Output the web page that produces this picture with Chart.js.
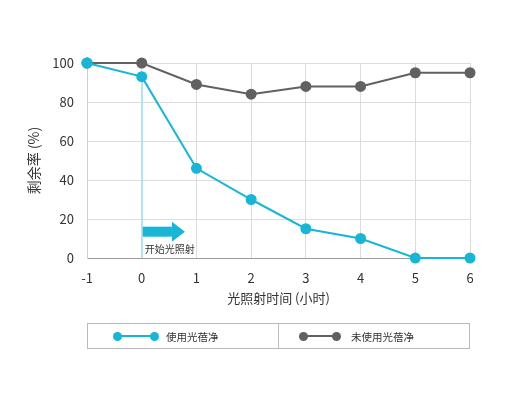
<!DOCTYPE html>
<html>
<head>
<meta charset="utf-8">
<script src="https://cdn.jsdelivr.net/npm/chart.js@4/dist/chart.umd.min.js"></script>
<style>
  body { margin:0; background:#fff; font-family:"Noto Sans CJK SC", "Noto Sans", sans-serif; }
  #wrap { position:relative; width:510px; height:397px; }
  #legend { position:absolute; left:87px; top:323px; width:381px; height:24px; border:1px solid #bbb; display:flex; }
  .item { flex:1; display:flex; align-items:center; font-size:10.5px; color:#333; }
  .item + .item { border-left:1px solid #bbb; }
  .mark { position:relative; width:46px; height:9px; margin:0 7px 0 25px; }
  .item + .item .mark { width:42px; margin:0 10px 0 20px; }
  .mark i { position:absolute; left:4px; right:4px; top:3.5px; height:2px; }
  .mark b { position:absolute; top:0; width:9px; height:9px; border-radius:50%; }
</style>
</head>
<body>
<div id="wrap">
  <canvas id="chart" width="510" height="397"></canvas>
  <div id="legend"></div>
</div>
<script>
// ── data ───────────────────────────────────────────
const hours      = [-1, 0, 1, 2, 3, 4, 5, 6];
const withUse    = [100, 93, 46, 30, 15, 10, 0, 0];
const withoutUse = [100, 100, 89, 84, 88, 88, 95, 95];
const yTicks     = [0, 20, 40, 60, 80, 100];
const names      = ['使用光蓓净', '未使用光蓓净'];
const colors     = ['#17b6d6', '#616161'];
const startX     = 0;      // light turned on
const arrowEnd   = 0.79;   // arrow tip (hours)
const arrowY     = 13.5;   // arrow centre (%)
const startLabel = '开始光照射';

const FONT = '"Noto Sans CJK SC", "Noto Sans", sans-serif';

// vertical marker + arrow annotation
const annot = {
  id: 'annot',
  beforeDatasetsDraw(chart) {
    const { ctx, scales: { x, y } } = chart;
    const x0 = x.getPixelForValue(startX);
    ctx.save();
    ctx.strokeStyle = '#9ad8ea';
    ctx.lineWidth = 1;
    ctx.beginPath();
    ctx.moveTo(x0 + 0.5, y.getPixelForValue(withUse[hours.indexOf(startX)]));
    ctx.lineTo(x0 + 0.5, y.getPixelForValue(0));
    ctx.stroke();

    const xe = x.getPixelForValue(arrowEnd);
    const yc = y.getPixelForValue(arrowY);
    const headLen = 13;
    ctx.fillStyle = colors[0];
    ctx.fillRect(x0 + 1, yc - 5, xe - headLen - x0 - 1, 10);
    ctx.beginPath();
    ctx.moveTo(xe - headLen, yc - 10);
    ctx.lineTo(xe, yc);
    ctx.lineTo(xe - headLen, yc + 10);
    ctx.closePath();
    ctx.fill();

    ctx.fillStyle = '#333';
    ctx.font = '10px ' + FONT;
    ctx.textBaseline = 'middle';
    ctx.fillText(startLabel, x0 + 3, yc + 18);
    ctx.restore();
  }
};

new Chart(document.getElementById('chart'), {
  type: 'line',
  data: {
    labels: hours,
    datasets: [withUse, withoutUse].map((d, i) => ({
      label: names[i],
      data: hours.map((h, k) => ({ x: h, y: d[k] })),
      borderColor: colors[i],
      backgroundColor: colors[i],
      borderWidth: 2,
      pointRadius: 4.5,
      pointHoverRadius: 4.5,
      tension: 0,
      clip: false,
    })),
  },
  options: {
    responsive: false,
    animation: false,
    layout: { padding: { left: 25, right: 40, top: 63, bottom: 87 } },
    plugins: { legend: { display: false }, tooltip: { enabled: false } },
    scales: {
      x: {
        type: 'linear', min: -1, max: 6,
        afterFit: s => { s.height = 52; },
        afterBuildTicks: s => { s.ticks = hours.map(v => ({ value: v })); },
        grid: { color: '#dcdcdc', drawTicks: false },
        border: { color: '#9a9a9a' },
        ticks: { color: '#333', font: { family: FONT, size: 13 }, padding: 12 },
        title: { display: true, text: '光照射时间 (小时)', color: '#333', font: { family: FONT, size: 13 }, padding: { top: 0, bottom: 4 } },
      },
      y: {
        min: 0, max: 100,
        afterFit: s => { s.width = 62; },
        afterBuildTicks: s => { s.ticks = yTicks.map(v => ({ value: v })); },
        grid: { color: '#dcdcdc', drawTicks: false },
        border: { color: '#cfcfcf' },
        ticks: { color: '#333', font: { family: FONT, size: 13 }, padding: 13 },
        title: { display: true, text: '剩余率 (%)', color: '#333', font: { family: FONT, size: 14 }, padding: 0 },
      },
    },
  },
  plugins: [annot],
});

// ── legend ───────────────────────────────────────────
document.getElementById('legend').innerHTML = names.map((n, i) => `
  <div class="item">
    <span class="mark"><i style="background:${colors[i]}"></i><b style="left:0;background:${colors[i]}"></b><b style="right:0;background:${colors[i]}"></b></span>${n}
  </div>`).join('');
</script>
</body>
</html>
